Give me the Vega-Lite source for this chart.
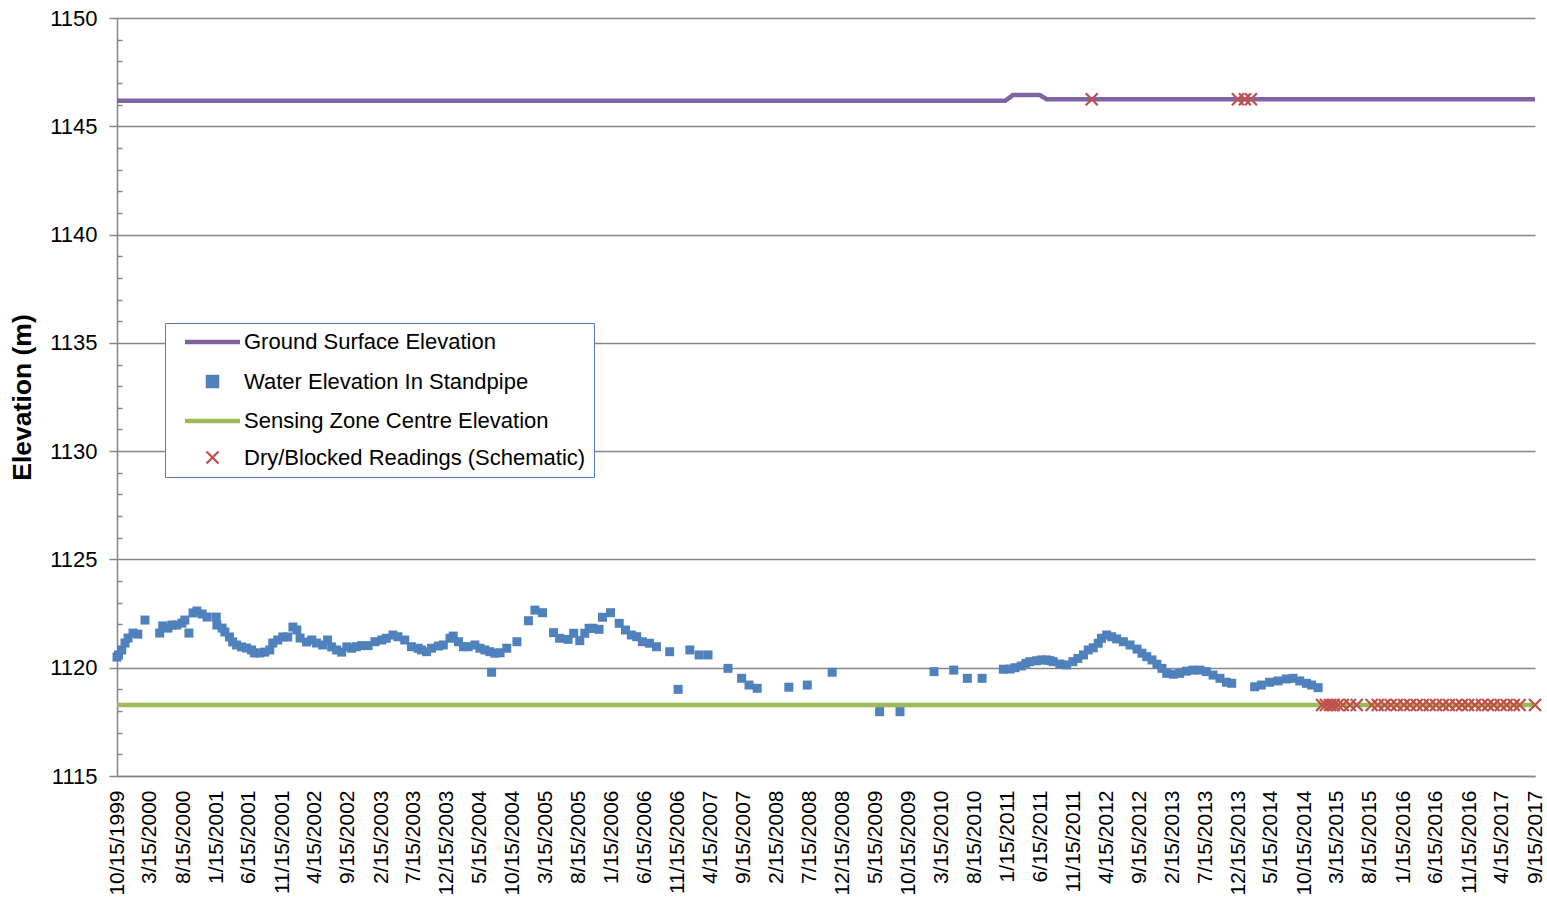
{
  "$schema": "https://vega.github.io/schema/vega-lite/v6.json",
  "width": 1418,
  "height": 758,
  "autosize": {"type": "none"},
  "padding": {"left": 117, "top": 18, "right": 12, "bottom": 129},
  "background": "white",
  "config": {
    "view": {"stroke": null},
    "font": "Liberation Sans",
    "axis": {"labelFont": "Liberation Sans", "titleFont": "Liberation Sans", "labelColor": "black", "titleColor": "black"}
  },
  "data": {"values": [
    {"date": "1999/10/15", "value": 1146.18, "series": "Ground Surface Elevation"},
    {"date": "2011/01/05", "value": 1146.18, "series": "Ground Surface Elevation"},
    {"date": "2011/02/09", "value": 1146.44, "series": "Ground Surface Elevation"},
    {"date": "2011/06/13", "value": 1146.44, "series": "Ground Surface Elevation"},
    {"date": "2011/07/15", "value": 1146.25, "series": "Ground Surface Elevation"},
    {"date": "2017/09/15", "value": 1146.25, "series": "Ground Surface Elevation"},
    {"date": "1999/10/15", "value": 1118.28, "series": "Sensing Zone Centre Elevation"},
    {"date": "2017/09/15", "value": 1118.28, "series": "Sensing Zone Centre Elevation"},
    {"date": "1999/10/15", "value": 1120.49, "series": "Water Elevation In Standpipe"},
    {"date": "1999/10/22", "value": 1120.59, "series": "Water Elevation In Standpipe"},
    {"date": "1999/11/06", "value": 1120.82, "series": "Water Elevation In Standpipe"},
    {"date": "1999/11/21", "value": 1121.14, "series": "Water Elevation In Standpipe"},
    {"date": "1999/12/05", "value": 1121.37, "series": "Water Elevation In Standpipe"},
    {"date": "1999/12/28", "value": 1121.60, "series": "Water Elevation In Standpipe"},
    {"date": "2000/01/19", "value": 1121.55, "series": "Water Elevation In Standpipe"},
    {"date": "2000/02/21", "value": 1122.20, "series": "Water Elevation In Standpipe"},
    {"date": "2000/04/29", "value": 1121.60, "series": "Water Elevation In Standpipe"},
    {"date": "2000/05/13", "value": 1121.93, "series": "Water Elevation In Standpipe"},
    {"date": "2000/06/06", "value": 1121.83, "series": "Water Elevation In Standpipe"},
    {"date": "2000/06/24", "value": 1121.97, "series": "Water Elevation In Standpipe"},
    {"date": "2000/07/17", "value": 1121.97, "series": "Water Elevation In Standpipe"},
    {"date": "2000/08/10", "value": 1122.06, "series": "Water Elevation In Standpipe"},
    {"date": "2000/08/23", "value": 1122.20, "series": "Water Elevation In Standpipe"},
    {"date": "2000/09/11", "value": 1121.60, "series": "Water Elevation In Standpipe"},
    {"date": "2000/09/30", "value": 1122.53, "series": "Water Elevation In Standpipe"},
    {"date": "2000/10/18", "value": 1122.62, "series": "Water Elevation In Standpipe"},
    {"date": "2000/11/11", "value": 1122.48, "series": "Water Elevation In Standpipe"},
    {"date": "2000/12/04", "value": 1122.34, "series": "Water Elevation In Standpipe"},
    {"date": "2001/01/15", "value": 1122.34, "series": "Water Elevation In Standpipe"},
    {"date": "2001/01/18", "value": 1121.97, "series": "Water Elevation In Standpipe"},
    {"date": "2001/02/11", "value": 1121.83, "series": "Water Elevation In Standpipe"},
    {"date": "2001/02/24", "value": 1121.65, "series": "Water Elevation In Standpipe"},
    {"date": "2001/03/17", "value": 1121.42, "series": "Water Elevation In Standpipe"},
    {"date": "2001/04/01", "value": 1121.19, "series": "Water Elevation In Standpipe"},
    {"date": "2001/04/19", "value": 1121.05, "series": "Water Elevation In Standpipe"},
    {"date": "2001/05/12", "value": 1120.96, "series": "Water Elevation In Standpipe"},
    {"date": "2001/06/04", "value": 1120.91, "series": "Water Elevation In Standpipe"},
    {"date": "2001/06/27", "value": 1120.82, "series": "Water Elevation In Standpipe"},
    {"date": "2001/07/11", "value": 1120.68, "series": "Water Elevation In Standpipe"},
    {"date": "2001/08/04", "value": 1120.68, "series": "Water Elevation In Standpipe"},
    {"date": "2001/08/27", "value": 1120.72, "series": "Water Elevation In Standpipe"},
    {"date": "2001/09/19", "value": 1120.82, "series": "Water Elevation In Standpipe"},
    {"date": "2001/10/03", "value": 1121.14, "series": "Water Elevation In Standpipe"},
    {"date": "2001/10/26", "value": 1121.28, "series": "Water Elevation In Standpipe"},
    {"date": "2001/11/18", "value": 1121.42, "series": "Water Elevation In Standpipe"},
    {"date": "2001/12/11", "value": 1121.42, "series": "Water Elevation In Standpipe"},
    {"date": "2002/01/04", "value": 1121.88, "series": "Water Elevation In Standpipe"},
    {"date": "2002/01/22", "value": 1121.74, "series": "Water Elevation In Standpipe"},
    {"date": "2002/02/06", "value": 1121.37, "series": "Water Elevation In Standpipe"},
    {"date": "2002/03/08", "value": 1121.19, "series": "Water Elevation In Standpipe"},
    {"date": "2002/04/01", "value": 1121.28, "series": "Water Elevation In Standpipe"},
    {"date": "2002/04/23", "value": 1121.14, "series": "Water Elevation In Standpipe"},
    {"date": "2002/05/21", "value": 1121.05, "series": "Water Elevation In Standpipe"},
    {"date": "2002/06/13", "value": 1121.28, "series": "Water Elevation In Standpipe"},
    {"date": "2002/07/02", "value": 1120.96, "series": "Water Elevation In Standpipe"},
    {"date": "2002/07/25", "value": 1120.82, "series": "Water Elevation In Standpipe"},
    {"date": "2002/08/17", "value": 1120.72, "series": "Water Elevation In Standpipe"},
    {"date": "2002/09/10", "value": 1120.96, "series": "Water Elevation In Standpipe"},
    {"date": "2002/10/02", "value": 1120.90, "series": "Water Elevation In Standpipe"},
    {"date": "2002/10/24", "value": 1120.97, "series": "Water Elevation In Standpipe"},
    {"date": "2002/11/17", "value": 1121.02, "series": "Water Elevation In Standpipe"},
    {"date": "2002/12/17", "value": 1121.02, "series": "Water Elevation In Standpipe"},
    {"date": "2003/01/18", "value": 1121.20, "series": "Water Elevation In Standpipe"},
    {"date": "2003/02/18", "value": 1121.28, "series": "Water Elevation In Standpipe"},
    {"date": "2003/03/11", "value": 1121.36, "series": "Water Elevation In Standpipe"},
    {"date": "2003/04/11", "value": 1121.51, "series": "Water Elevation In Standpipe"},
    {"date": "2003/05/04", "value": 1121.43, "series": "Water Elevation In Standpipe"},
    {"date": "2003/06/04", "value": 1121.28, "series": "Water Elevation In Standpipe"},
    {"date": "2003/07/05", "value": 1120.97, "series": "Water Elevation In Standpipe"},
    {"date": "2003/08/05", "value": 1120.90, "series": "Water Elevation In Standpipe"},
    {"date": "2003/08/20", "value": 1120.82, "series": "Water Elevation In Standpipe"},
    {"date": "2003/09/13", "value": 1120.74, "series": "Water Elevation In Standpipe"},
    {"date": "2003/10/06", "value": 1120.90, "series": "Water Elevation In Standpipe"},
    {"date": "2003/11/06", "value": 1121.00, "series": "Water Elevation In Standpipe"},
    {"date": "2003/11/29", "value": 1121.05, "series": "Water Elevation In Standpipe"},
    {"date": "2003/12/30", "value": 1121.36, "series": "Water Elevation In Standpipe"},
    {"date": "2004/01/14", "value": 1121.46, "series": "Water Elevation In Standpipe"},
    {"date": "2004/02/07", "value": 1121.20, "series": "Water Elevation In Standpipe"},
    {"date": "2004/03/01", "value": 1120.97, "series": "Water Elevation In Standpipe"},
    {"date": "2004/03/23", "value": 1120.97, "series": "Water Elevation In Standpipe"},
    {"date": "2004/04/23", "value": 1121.05, "series": "Water Elevation In Standpipe"},
    {"date": "2004/05/16", "value": 1120.90, "series": "Water Elevation In Standpipe"},
    {"date": "2004/06/08", "value": 1120.82, "series": "Water Elevation In Standpipe"},
    {"date": "2004/07/01", "value": 1120.74, "series": "Water Elevation In Standpipe"},
    {"date": "2004/07/09", "value": 1119.79, "series": "Water Elevation In Standpipe"},
    {"date": "2004/07/24", "value": 1120.67, "series": "Water Elevation In Standpipe"},
    {"date": "2004/08/17", "value": 1120.69, "series": "Water Elevation In Standpipe"},
    {"date": "2004/09/17", "value": 1120.90, "series": "Water Elevation In Standpipe"},
    {"date": "2004/11/03", "value": 1121.20, "series": "Water Elevation In Standpipe"},
    {"date": "2004/12/26", "value": 1122.17, "series": "Water Elevation In Standpipe"},
    {"date": "2005/01/25", "value": 1122.66, "series": "Water Elevation In Standpipe"},
    {"date": "2005/03/01", "value": 1122.54, "series": "Water Elevation In Standpipe"},
    {"date": "2005/04/21", "value": 1121.62, "series": "Water Elevation In Standpipe"},
    {"date": "2005/05/19", "value": 1121.36, "series": "Water Elevation In Standpipe"},
    {"date": "2005/06/27", "value": 1121.31, "series": "Water Elevation In Standpipe"},
    {"date": "2005/07/23", "value": 1121.59, "series": "Water Elevation In Standpipe"},
    {"date": "2005/08/20", "value": 1121.25, "series": "Water Elevation In Standpipe"},
    {"date": "2005/09/12", "value": 1121.59, "series": "Water Elevation In Standpipe"},
    {"date": "2005/10/02", "value": 1121.82, "series": "Water Elevation In Standpipe"},
    {"date": "2005/10/20", "value": 1121.82, "series": "Water Elevation In Standpipe"},
    {"date": "2005/11/17", "value": 1121.77, "series": "Water Elevation In Standpipe"},
    {"date": "2005/12/03", "value": 1122.33, "series": "Water Elevation In Standpipe"},
    {"date": "2006/01/09", "value": 1122.54, "series": "Water Elevation In Standpipe"},
    {"date": "2006/02/18", "value": 1122.05, "series": "Water Elevation In Standpipe"},
    {"date": "2006/03/19", "value": 1121.74, "series": "Water Elevation In Standpipe"},
    {"date": "2006/04/15", "value": 1121.51, "series": "Water Elevation In Standpipe"},
    {"date": "2006/05/10", "value": 1121.43, "series": "Water Elevation In Standpipe"},
    {"date": "2006/06/05", "value": 1121.20, "series": "Water Elevation In Standpipe"},
    {"date": "2006/07/08", "value": 1121.13, "series": "Water Elevation In Standpipe"},
    {"date": "2006/08/09", "value": 1120.97, "series": "Water Elevation In Standpipe"},
    {"date": "2006/10/09", "value": 1120.74, "series": "Water Elevation In Standpipe"},
    {"date": "2006/11/17", "value": 1119.00, "series": "Water Elevation In Standpipe"},
    {"date": "2007/01/10", "value": 1120.82, "series": "Water Elevation In Standpipe"},
    {"date": "2007/02/22", "value": 1120.59, "series": "Water Elevation In Standpipe"},
    {"date": "2007/04/04", "value": 1120.59, "series": "Water Elevation In Standpipe"},
    {"date": "2007/07/05", "value": 1119.97, "series": "Water Elevation In Standpipe"},
    {"date": "2007/09/06", "value": 1119.51, "series": "Water Elevation In Standpipe"},
    {"date": "2007/10/10", "value": 1119.20, "series": "Water Elevation In Standpipe"},
    {"date": "2007/11/17", "value": 1119.05, "series": "Water Elevation In Standpipe"},
    {"date": "2008/04/11", "value": 1119.10, "series": "Water Elevation In Standpipe"},
    {"date": "2008/07/05", "value": 1119.20, "series": "Water Elevation In Standpipe"},
    {"date": "2008/10/28", "value": 1119.79, "series": "Water Elevation In Standpipe"},
    {"date": "2009/06/04", "value": 1117.97, "series": "Water Elevation In Standpipe"},
    {"date": "2009/09/06", "value": 1117.97, "series": "Water Elevation In Standpipe"},
    {"date": "2010/02/10", "value": 1119.82, "series": "Water Elevation In Standpipe"},
    {"date": "2010/05/12", "value": 1119.89, "series": "Water Elevation In Standpipe"},
    {"date": "2010/07/14", "value": 1119.51, "series": "Water Elevation In Standpipe"},
    {"date": "2010/09/20", "value": 1119.51, "series": "Water Elevation In Standpipe"},
    {"date": "2010/12/27", "value": 1119.93, "series": "Water Elevation In Standpipe"},
    {"date": "2011/01/27", "value": 1119.94, "series": "Water Elevation In Standpipe"},
    {"date": "2011/02/19", "value": 1120.00, "series": "Water Elevation In Standpipe"},
    {"date": "2011/03/20", "value": 1120.08, "series": "Water Elevation In Standpipe"},
    {"date": "2011/04/10", "value": 1120.20, "series": "Water Elevation In Standpipe"},
    {"date": "2011/04/28", "value": 1120.28, "series": "Water Elevation In Standpipe"},
    {"date": "2011/05/29", "value": 1120.32, "series": "Water Elevation In Standpipe"},
    {"date": "2011/06/20", "value": 1120.36, "series": "Water Elevation In Standpipe"},
    {"date": "2011/07/14", "value": 1120.36, "series": "Water Elevation In Standpipe"},
    {"date": "2011/07/30", "value": 1120.33, "series": "Water Elevation In Standpipe"},
    {"date": "2011/08/14", "value": 1120.28, "series": "Water Elevation In Standpipe"},
    {"date": "2011/09/14", "value": 1120.17, "series": "Water Elevation In Standpipe"},
    {"date": "2011/10/15", "value": 1120.13, "series": "Water Elevation In Standpipe"},
    {"date": "2011/11/13", "value": 1120.28, "series": "Water Elevation In Standpipe"},
    {"date": "2011/12/06", "value": 1120.43, "series": "Water Elevation In Standpipe"},
    {"date": "2012/01/01", "value": 1120.59, "series": "Water Elevation In Standpipe"},
    {"date": "2012/01/23", "value": 1120.82, "series": "Water Elevation In Standpipe"},
    {"date": "2012/02/15", "value": 1120.92, "series": "Water Elevation In Standpipe"},
    {"date": "2012/03/09", "value": 1121.13, "series": "Water Elevation In Standpipe"},
    {"date": "2012/03/24", "value": 1121.36, "series": "Water Elevation In Standpipe"},
    {"date": "2012/04/17", "value": 1121.51, "series": "Water Elevation In Standpipe"},
    {"date": "2012/05/10", "value": 1121.43, "series": "Water Elevation In Standpipe"},
    {"date": "2012/06/02", "value": 1121.33, "series": "Water Elevation In Standpipe"},
    {"date": "2012/07/03", "value": 1121.20, "series": "Water Elevation In Standpipe"},
    {"date": "2012/08/03", "value": 1121.05, "series": "Water Elevation In Standpipe"},
    {"date": "2012/09/04", "value": 1120.86, "series": "Water Elevation In Standpipe"},
    {"date": "2012/09/27", "value": 1120.67, "series": "Water Elevation In Standpipe"},
    {"date": "2012/10/19", "value": 1120.51, "series": "Water Elevation In Standpipe"},
    {"date": "2012/11/12", "value": 1120.36, "series": "Water Elevation In Standpipe"},
    {"date": "2012/12/05", "value": 1120.16, "series": "Water Elevation In Standpipe"},
    {"date": "2012/12/28", "value": 1119.97, "series": "Water Elevation In Standpipe"},
    {"date": "2013/01/19", "value": 1119.74, "series": "Water Elevation In Standpipe"},
    {"date": "2013/02/19", "value": 1119.70, "series": "Water Elevation In Standpipe"},
    {"date": "2013/03/20", "value": 1119.74, "series": "Water Elevation In Standpipe"},
    {"date": "2013/04/20", "value": 1119.84, "series": "Water Elevation In Standpipe"},
    {"date": "2013/05/20", "value": 1119.89, "series": "Water Elevation In Standpipe"},
    {"date": "2013/06/21", "value": 1119.89, "series": "Water Elevation In Standpipe"},
    {"date": "2013/07/21", "value": 1119.82, "series": "Water Elevation In Standpipe"},
    {"date": "2013/08/21", "value": 1119.66, "series": "Water Elevation In Standpipe"},
    {"date": "2013/09/22", "value": 1119.51, "series": "Water Elevation In Standpipe"},
    {"date": "2013/10/22", "value": 1119.33, "series": "Water Elevation In Standpipe"},
    {"date": "2013/11/15", "value": 1119.28, "series": "Water Elevation In Standpipe"},
    {"date": "2014/03/01", "value": 1119.12, "series": "Water Elevation In Standpipe"},
    {"date": "2014/04/01", "value": 1119.20, "series": "Water Elevation In Standpipe"},
    {"date": "2014/05/09", "value": 1119.33, "series": "Water Elevation In Standpipe"},
    {"date": "2014/06/17", "value": 1119.39, "series": "Water Elevation In Standpipe"},
    {"date": "2014/07/25", "value": 1119.48, "series": "Water Elevation In Standpipe"},
    {"date": "2014/08/25", "value": 1119.51, "series": "Water Elevation In Standpipe"},
    {"date": "2014/09/25", "value": 1119.39, "series": "Water Elevation In Standpipe"},
    {"date": "2014/10/26", "value": 1119.28, "series": "Water Elevation In Standpipe"},
    {"date": "2014/11/19", "value": 1119.20, "series": "Water Elevation In Standpipe"},
    {"date": "2014/12/19", "value": 1119.08, "series": "Water Elevation In Standpipe"},
    {"date": "2012/02/08", "value": 1146.25, "series": "Dry/Blocked Readings (Schematic)"},
    {"date": "2013/12/14", "value": 1146.25, "series": "Dry/Blocked Readings (Schematic)"},
    {"date": "2014/01/15", "value": 1146.25, "series": "Dry/Blocked Readings (Schematic)"},
    {"date": "2014/02/12", "value": 1146.25, "series": "Dry/Blocked Readings (Schematic)"},
    {"date": "2015/01/06", "value": 1118.28, "series": "Dry/Blocked Readings (Schematic)"},
    {"date": "2015/01/24", "value": 1118.28, "series": "Dry/Blocked Readings (Schematic)"},
    {"date": "2015/02/12", "value": 1118.28, "series": "Dry/Blocked Readings (Schematic)"},
    {"date": "2015/03/01", "value": 1118.28, "series": "Dry/Blocked Readings (Schematic)"},
    {"date": "2015/03/20", "value": 1118.28, "series": "Dry/Blocked Readings (Schematic)"},
    {"date": "2015/04/12", "value": 1118.28, "series": "Dry/Blocked Readings (Schematic)"},
    {"date": "2015/05/15", "value": 1118.28, "series": "Dry/Blocked Readings (Schematic)"},
    {"date": "2015/06/15", "value": 1118.28, "series": "Dry/Blocked Readings (Schematic)"},
    {"date": "2015/08/23", "value": 1118.28, "series": "Dry/Blocked Readings (Schematic)"},
    {"date": "2015/09/20", "value": 1118.28, "series": "Dry/Blocked Readings (Schematic)"},
    {"date": "2015/10/22", "value": 1118.28, "series": "Dry/Blocked Readings (Schematic)"},
    {"date": "2015/11/19", "value": 1118.28, "series": "Dry/Blocked Readings (Schematic)"},
    {"date": "2015/12/17", "value": 1118.28, "series": "Dry/Blocked Readings (Schematic)"},
    {"date": "2016/01/19", "value": 1118.28, "series": "Dry/Blocked Readings (Schematic)"},
    {"date": "2016/02/16", "value": 1118.28, "series": "Dry/Blocked Readings (Schematic)"},
    {"date": "2016/03/18", "value": 1118.28, "series": "Dry/Blocked Readings (Schematic)"},
    {"date": "2016/04/15", "value": 1118.28, "series": "Dry/Blocked Readings (Schematic)"},
    {"date": "2016/05/17", "value": 1118.28, "series": "Dry/Blocked Readings (Schematic)"},
    {"date": "2016/06/15", "value": 1118.28, "series": "Dry/Blocked Readings (Schematic)"},
    {"date": "2016/07/17", "value": 1118.28, "series": "Dry/Blocked Readings (Schematic)"},
    {"date": "2016/08/14", "value": 1118.28, "series": "Dry/Blocked Readings (Schematic)"},
    {"date": "2016/09/16", "value": 1118.28, "series": "Dry/Blocked Readings (Schematic)"},
    {"date": "2016/10/13", "value": 1118.28, "series": "Dry/Blocked Readings (Schematic)"},
    {"date": "2016/11/10", "value": 1118.28, "series": "Dry/Blocked Readings (Schematic)"},
    {"date": "2016/12/12", "value": 1118.28, "series": "Dry/Blocked Readings (Schematic)"},
    {"date": "2017/01/13", "value": 1118.28, "series": "Dry/Blocked Readings (Schematic)"},
    {"date": "2017/02/10", "value": 1118.28, "series": "Dry/Blocked Readings (Schematic)"},
    {"date": "2017/03/08", "value": 1118.28, "series": "Dry/Blocked Readings (Schematic)"},
    {"date": "2017/04/10", "value": 1118.28, "series": "Dry/Blocked Readings (Schematic)"},
    {"date": "2017/05/07", "value": 1118.28, "series": "Dry/Blocked Readings (Schematic)"},
    {"date": "2017/06/09", "value": 1118.28, "series": "Dry/Blocked Readings (Schematic)"},
    {"date": "2017/07/06", "value": 1118.28, "series": "Dry/Blocked Readings (Schematic)"},
    {"date": "2017/09/15", "value": 1118.28, "series": "Dry/Blocked Readings (Schematic)"}
  ]},
  "encoding": {
    "x": {"field": "date", "type": "temporal",
      "scale": {"domain": [{"year": 1999, "month": 10, "date": 15}, {"year": 2017, "month": 9, "date": 15}]},
      "axis": {
        "title": null, "format": "%-m/%-d/%Y", "labelAngle": -90, "labelAlign": "right", "labelBaseline": "middle",
        "labelPadding": 14, "labelFontSize": 21, "labelOverlap": false, "labelFlush": false, "labelSeparation": 0, "ticks": false, "grid": false,
        "domainColor": "#868686", "domainWidth": 1.5,
        "values": [
          {"year": 1999, "month": 10, "date": 15}, {"year": 2000, "month": 3, "date": 15}, {"year": 2000, "month": 8, "date": 15},
          {"year": 2001, "month": 1, "date": 15}, {"year": 2001, "month": 6, "date": 15}, {"year": 2001, "month": 11, "date": 15},
          {"year": 2002, "month": 4, "date": 15}, {"year": 2002, "month": 9, "date": 15}, {"year": 2003, "month": 2, "date": 15},
          {"year": 2003, "month": 7, "date": 15}, {"year": 2003, "month": 12, "date": 15}, {"year": 2004, "month": 5, "date": 15},
          {"year": 2004, "month": 10, "date": 15}, {"year": 2005, "month": 3, "date": 15}, {"year": 2005, "month": 8, "date": 15},
          {"year": 2006, "month": 1, "date": 15}, {"year": 2006, "month": 6, "date": 15}, {"year": 2006, "month": 11, "date": 15},
          {"year": 2007, "month": 4, "date": 15}, {"year": 2007, "month": 9, "date": 15}, {"year": 2008, "month": 2, "date": 15},
          {"year": 2008, "month": 7, "date": 15}, {"year": 2008, "month": 12, "date": 15}, {"year": 2009, "month": 5, "date": 15},
          {"year": 2009, "month": 10, "date": 15}, {"year": 2010, "month": 3, "date": 15}, {"year": 2010, "month": 8, "date": 15},
          {"year": 2011, "month": 1, "date": 15}, {"year": 2011, "month": 6, "date": 15}, {"year": 2011, "month": 11, "date": 15},
          {"year": 2012, "month": 4, "date": 15}, {"year": 2012, "month": 9, "date": 15}, {"year": 2013, "month": 2, "date": 15},
          {"year": 2013, "month": 7, "date": 15}, {"year": 2013, "month": 12, "date": 15}, {"year": 2014, "month": 5, "date": 15},
          {"year": 2014, "month": 10, "date": 15}, {"year": 2015, "month": 3, "date": 15}, {"year": 2015, "month": 8, "date": 15},
          {"year": 2016, "month": 1, "date": 15}, {"year": 2016, "month": 6, "date": 15}, {"year": 2016, "month": 11, "date": 15},
          {"year": 2017, "month": 4, "date": 15}, {"year": 2017, "month": 9, "date": 15}
        ]
      }
    },
    "color": {"field": "series", "type": "nominal",
      "scale": {"domain": ["Ground Surface Elevation", "Water Elevation In Standpipe", "Sensing Zone Centre Elevation", "Dry/Blocked Readings (Schematic)"],
                "range": ["#8064A2", "#4F81BD", "#9BBB59", "#C0504D"]},
      "legend": {
        "orient": "none", "legendX": 48, "legendY": 305, "title": null,
        "fillColor": "white", "strokeColor": "#4F81BD", "padding": 8, "rowPadding": 14.5,
        "labelFontSize": 22, "labelFont": "Liberation Sans", "labelColor": "black", "labelLimit": 500,
        "symbolSize": 100, "symbolOffset": 28.5, "labelOffset": 20.5,
        "encode": {"symbols": {"update": {
          "fill": {"signal": "datum.value === 'Water Elevation In Standpipe' ? '#4F81BD' : 'transparent'"},
          "stroke": {"signal": "datum.value === 'Ground Surface Elevation' ? '#8064A2' : datum.value === 'Sensing Zone Centre Elevation' ? '#9BBB59' : datum.value === 'Dry/Blocked Readings (Schematic)' ? '#C0504D' : 'transparent'"},
          "strokeWidth": {"signal": "datum.value === 'Dry/Blocked Readings (Schematic)' ? 2.3 : 4.5"},
          "opacity": {"value": 1}
        }}}
      }
    }
  },
  "layer": [
    {
      "transform": [{"filter": "datum.series === 'Ground Surface Elevation'"}],
      "mark": {"type": "line", "strokeWidth": 4.5},
      "encoding": {
        "y": {"field": "value", "type": "quantitative",
          "scale": {"domain": [1115, 1150], "nice": false, "zero": false},
          "axis": {
            "title": "Elevation (m)", "titleFontSize": 26.5, "titleFontWeight": "bold", "titlePadding": 13,
            "values": [1115, 1120, 1125, 1130, 1135, 1140, 1145, 1150], "format": "d",
            "labelFontSize": 22, "labelPadding": 12, "tickSize": 8, "tickColor": "#868686", "tickWidth": 1.5,
            "grid": true, "gridColor": "#868686", "gridWidth": 1.5, "domainColor": "#868686", "domainWidth": 1.5
          }
        }
      }
    },
    {
      "transform": [{"filter": "datum.series === 'Sensing Zone Centre Elevation'"}],
      "mark": {"type": "line", "strokeWidth": 4.5},
      "encoding": {
        "y": {"field": "value", "type": "quantitative",
          "axis": {"orient": "left", "title": null, "labels": false, "domain": false, "grid": false, "ticks": true,
            "tickSize": -5, "tickColor": "#868686", "tickWidth": 1.5,
            "values": [1116, 1117, 1118, 1119, 1121, 1122, 1123, 1124, 1126, 1127, 1128, 1129, 1131, 1132, 1133, 1134, 1136, 1137, 1138, 1139, 1141, 1142, 1143, 1144, 1146, 1147, 1148, 1149]}
        }
      }
    },
    {
      "transform": [{"filter": "datum.series === 'Water Elevation In Standpipe'"}],
      "mark": {"type": "point", "filled": true, "size": 100, "opacity": 1},
      "encoding": {
        "y": {"field": "value", "type": "quantitative", "axis": null},
        "shape": {"field": "series", "type": "nominal",
          "scale": {"domain": ["Ground Surface Elevation", "Water Elevation In Standpipe", "Sensing Zone Centre Elevation", "Dry/Blocked Readings (Schematic)"],
                    "range": ["M-5.5,0L5.5,0", "M-0.9,-0.9L0.9,-0.9L0.9,0.9L-0.9,0.9Z", "M-5.5,0L5.5,0", "M-1.2,-1.2L1.2,1.2M-1.2,1.2L1.2,-1.2"]}}
      }
    },
    {
      "transform": [{"filter": "datum.series === 'Dry/Blocked Readings (Schematic)'"}],
      "mark": {"type": "point", "filled": false, "size": 100, "strokeWidth": 2.3, "opacity": 1},
      "encoding": {
        "y": {"field": "value", "type": "quantitative", "axis": null},
        "shape": {"field": "series", "type": "nominal"}
      }
    }
  ],
  "resolve": {"axis": {"y": "independent"}}
}
